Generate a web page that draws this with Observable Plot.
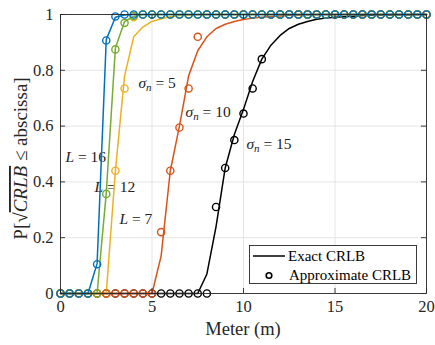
<!DOCTYPE html>
<html>
<head>
<meta charset="utf-8">
<script src="https://cdn.jsdelivr.net/npm/d3@7"></script>
<script src="https://cdn.jsdelivr.net/npm/@observablehq/plot@0.6"></script>
<style>
  html, body { margin: 0; padding: 0; background: #fff; }
  #chart { width: 435px; height: 345px; }
</style>
</head>
<body>
<div id="chart"></div>
<script>
// sample positions (m), every 0.5 m
const xs = [0,0.5,1,1.5,2,2.5,3,3.5,4,4.5,5,5.5,6,6.5,7,7.5,8,8.5,9,9.5,10,10.5,11,11.5,12,12.5,13,13.5,14,14.5,15,15.5,16,16.5,17,17.5,18,18.5,19,19.5,20];

// Exact CRLB curves (line)
const exactBlue   = [0,0,0,0,0.107,0.91,0.99,0.998,1,1,1,1,1,1,1,1,1,1,1,1,1,1,1,1,1,1,1,1,1,1,1,1,1,1,1,1,1,1,1,1,1];
const exactGreen  = [0,0,0,0,0,0.36,0.88,0.975,0.993,1,1,1,1,1,1,1,1,1,1,1,1,1,1,1,1,1,1,1,1,1,1,1,1,1,1,1,1,1,1,1,1];
const exactYellow = [0,0,0,0,0,0,0.44,0.78,0.92,0.955,0.975,0.985,0.992,0.996,0.998,0.999,1,1,1,1,1,1,1,1,1,1,1,1,1,1,1,1,1,1,1,1,1,1,1,1,1];
const exactOrange = [0,0,0,0,0,0,0,0,0,0,0,0.135,0.44,0.6,0.78,0.87,0.92,0.95,0.965,0.975,0.982,0.987,0.99,0.993,0.995,0.997,0.998,0.999,1,1,1,1,1,1,1,1,1,1,1,1,1];
const exactBlack  = [0,0,0,0,0,0,0,0,0,0,0,0,0,0,0,0,0.07,0.24,0.45,0.57,0.66,0.76,0.84,0.89,0.925,0.95,0.965,0.975,0.983,0.987,0.99,0.992,0.994,0.996,0.997,0.998,0.998,0.999,0.999,1,1];

// Approximate CRLB (circles)
const approxBlue   = [0,0,0,0,0.105,0.907,0.993,1,1,1,1,1,1,1,1,1,1,1,1,1,1,1,1,1,1,1,1,1,1,1,1,1,1,1,1,1,1,1,1,1,1];
const approxGreen  = [0,0,0,0,0,0.357,0.875,0.97,0.995,1,1,1,1,1,1,1,1,1,1,1,1,1,1,1,1,1,1,1,1,1,1,1,1,1,1,1,1,1,1,1,1];
const approxYellow = [0,0,0,0,0,0,0.44,0.735,0.99,1,1,1,1,1,1,1,1,1,1,1,1,1,1,1,1,1,1,1,1,1,1,1,1,1,1,1,1,1,1,1,1];
const approxOrange = [0,0,0,0,0,0,0,0,0,0,0,0.22,0.44,0.595,0.735,0.92,1,1,1,1,1,1,1,1,1,1,1,1,1,1,1,1,1,1,1,1,1,1,1,1,1];
const approxBlack  = [0,0,0,0,0,0,0,0,0,0,0,0,0,0,0,0,0,0.31,0.45,0.55,0.645,0.735,0.84,1,1,1,1,1,1,1,1,1,1,1,1,1,1,1,1,1,1];

const seriesNames  = ["black", "yellow", "orange", "green", "blue"];
const seriesColors = ["#000000", "#EDB120", "#D95319", "#77AC30", "#0072BD"];
const exactSeries  = [exactBlack, exactYellow, exactOrange, exactGreen, exactBlue];
const approxSeries = [approxBlack, approxYellow, approxOrange, approxGreen, approxBlue];

const xTicks = [0, 5, 10, 15, 20];
const yTicks = [0, 0.2, 0.4, 0.6, 0.8, 1];
const xGrid = [5, 10, 15];
const yGrid = [0.2, 0.4, 0.6, 0.8];

// annotations
const annoText = ["σ_n = 5", "σ_n = 10", "σ_n = 15", "L = 16", "L = 12", "L = 7"];
const annoX    = [4.26, 6.83, 10.16, 0.27, 1.86, 3.22];
const annoY    = [0.756, 0.652, 0.534, 0.49, 0.383, 0.268];
const annos = annoText.map((t, i) => ({t, x: annoX[i], y: annoY[i]}));

const legendLabels = ["Exact CRLB", "Approximate CRLB"];

const FONT = "'Liberation Serif', 'Times New Roman', serif";

const W = 435, H = 345;
const mL = 60, mR = 9, mT = 14, mB = 52;
const innerW = W - mL - mR, innerH = H - mT - mB;

const marks = [
  Plot.ruleX(xGrid, {stroke: "#dedede", strokeWidth: 0.8}),
  Plot.ruleY(yGrid, {stroke: "#dedede", strokeWidth: 0.8}),
  Plot.text(annos, {x: "x", y: "y", text: "t", textAnchor: "start", fontSize: 15.5, fill: "#222"})
];
seriesNames.forEach((name, k) => {
  const ex = xs.map((x, i) => ({x, y: exactSeries[k][i]}));
  const ap = xs.map((x, i) => ({x, y: approxSeries[k][i]}));
  marks.push(Plot.line(ex, {x: "x", y: "y", stroke: seriesColors[k], strokeWidth: 1.5}));
  marks.push(Plot.dot(ap, {x: "x", y: "y", r: 3.6, stroke: seriesColors[k], strokeWidth: 1.4, fill: "none"}));
});
marks.push(
  Plot.frame({stroke: "#262626", strokeWidth: 0.9}),
  Plot.tickY(yTicks, {y: d => d, insetRight: innerW - 5, stroke: "#262626", strokeWidth: 0.9}),
  Plot.tickY(yTicks, {y: d => d, insetLeft: innerW - 5, stroke: "#262626", strokeWidth: 0.9}),
  Plot.tickX(xTicks, {x: d => d, insetTop: innerH - 5, stroke: "#262626", strokeWidth: 0.9}),
  Plot.tickX(xTicks, {x: d => d, insetBottom: innerH - 5, stroke: "#262626", strokeWidth: 0.9}),
  Plot.axisX(xTicks, {tickSize: 0, tickPadding: 7, fontSize: 16.5, fill: "#262626", label: null, tickFormat: d => String(d)}),
  Plot.axisY(yTicks, {tickSize: 0, tickPadding: 7, fontSize: 16.5, fill: "#262626", label: null, tickFormat: d => String(d)})
);

const svg = Plot.plot({
  width: W, height: H,
  marginLeft: mL, marginRight: mR, marginTop: mT, marginBottom: mB,
  style: {fontFamily: FONT, background: "#fff", overflow: "visible"},
  x: {domain: [0, 20]},
  y: {domain: [0, 1]},
  marks
});
document.getElementById("chart").appendChild(svg);

const s = d3.select(svg);

// rich annotation text (italic symbols, subscript)
s.selectAll("text").each(function() {
  const el = d3.select(this);
  if (el.selectAll("tspan").size() > 0) return;
  const t = el.text();
  let m = t.match(/^σ_n = (\d+)$/);
  if (m) {
    el.text(null);
    el.append("tspan").attr("font-style", "italic").text("σ");
    el.append("tspan").attr("font-style", "italic").attr("font-size", 11).attr("dy", 3).text("n");
    el.append("tspan").attr("dy", -3).text(" = " + m[1]);
    return;
  }
  m = t.match(/^L = (\d+)$/);
  if (m) {
    el.text(null);
    el.append("tspan").attr("font-style", "italic").text("L");
    el.append("tspan").text(" = " + m[1]);
  }
});

// axis titles
s.append("text")
  .attr("x", mL + innerW / 2).attr("y", 335)
  .attr("text-anchor", "middle").attr("font-size", 18.5).attr("fill", "#262626")
  .text("Meter (m)");

const yl = s.append("text")
  .attr("transform", `translate(27,${mT + innerH / 2 + 5}) rotate(-90)`)
  .attr("text-anchor", "middle").attr("font-size", 19).attr("fill", "#262626");
yl.append("tspan").text("P[√");
yl.append("tspan").attr("font-style", "italic").attr("text-decoration", "overline").text("CRLB");
yl.append("tspan").text(" ≤ abscissa]");

// legend
const lg = s.append("g").attr("font-size", 15).attr("fill", "#000").attr("text-anchor", "start");
lg.append("rect").attr("x", 249.5).attr("y", 245.5).attr("width", 167).attr("height", 38)
  .attr("fill", "#fff").attr("stroke", "#262626").attr("stroke-width", 0.9);
lg.append("line").attr("x1", 253).attr("x2", 285).attr("y1", 256).attr("y2", 256)
  .attr("stroke", "#000").attr("stroke-width", 1.5);
lg.append("text").attr("x", 288).attr("y", 261).attr("text-anchor", "start").text(legendLabels[0]);
lg.append("circle").attr("cx", 269).attr("cy", 275.5).attr("r", 2.8)
  .attr("fill", "none").attr("stroke", "#000").attr("stroke-width", 1.6);
lg.append("text").attr("x", 289).attr("y", 280).attr("text-anchor", "start").text(legendLabels[1]);
</script>
</body>
</html>
